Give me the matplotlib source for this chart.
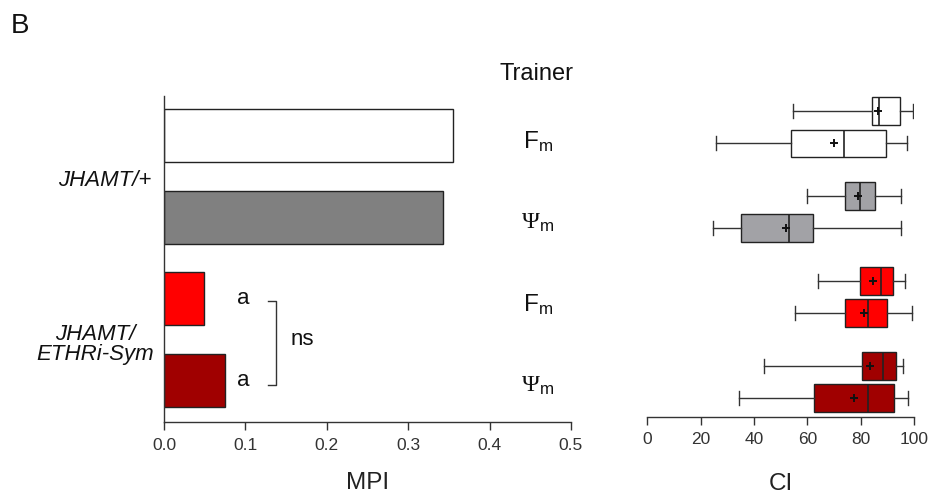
import matplotlib.pyplot as plt
import numpy as np

plt.rcParams['font.family'] = ['Liberation Sans', 'DejaVu Sans']
plt.rcParams['mathtext.fontset'] = 'custom'
plt.rcParams['mathtext.rm'] = 'Liberation Serif'
plt.rcParams['mathtext.sf'] = 'Liberation Sans'
plt.rcParams['mathtext.it'] = 'Liberation Serif:italic'

# MPI per trainer, top to bottom
mpi_values = [0.355, 0.343, 0.049, 0.075]
mpi_colors = ['white', '#808080', '#ff0000', '#a00000']
trainer_labels = [r'$\mathsf{F_m}$', r'$\Psi_\mathsf{m}$', r'$\mathsf{F_m}$', r'$\Psi_\mathsf{m}$']
genotypes = ['JHAMT/+', 'JHAMT/\nETHRi-Sym']

# CI box summaries (two boxes per trainer): whisker low, Q1, median, Q3, whisker high, mean
ci_low = [54.7, 25.6, 60.0, 24.5, 63.9, 55.5, 43.8, 34.5]
ci_q1 = [84.1, 53.8, 74.1, 35.1, 79.6, 74.0, 80.5, 62.5]
ci_med = [86.9, 73.6, 79.6, 53.2, 87.7, 82.9, 88.3, 82.9]
ci_q3 = [94.9, 89.4, 85.3, 62.0, 92.0, 89.9, 93.1, 92.5]
ci_high = [99.7, 97.5, 95.1, 95.2, 96.6, 99.2, 95.8, 97.9]
ci_mean = [86.5, 69.9, 78.9, 52.0, 84.5, 81.4, 83.5, 77.4]
ci_colors = ['white', 'white', '#a2a2a6', '#a2a2a6', '#ff0000', '#ff0000', '#a00000', '#a00000']
ci_pos = [0, 1, 2.6, 3.6, 5.2, 6.2, 7.8, 8.8]

fig = plt.figure(figsize=(9.33, 4.99), dpi=100)

# ---- MPI bar chart ----
ax1 = fig.add_axes([0.1758, 0.1537, 0.4362, 0.6539])
ypos = np.arange(len(mpi_values))
ax1.barh(ypos, mpi_values, height=0.65, color=mpi_colors, edgecolor='#222222', linewidth=1.0)
ax1.set_xlim(0, 0.5)
ax1.set_ylim(3.513, -0.485)
ax1.set_xticks([0.0, 0.1, 0.2, 0.3, 0.4, 0.5])
ax1.set_xticklabels(['0.0', '0.1', '0.2', '0.3', '0.4', '0.5'])
ax1.set_yticks([])
for s in ['top', 'right']:
    ax1.spines[s].set_visible(False)
for s in ['left', 'bottom']:
    ax1.spines[s].set_color('#333333')
    ax1.spines[s].set_linewidth(1.0)
ax1.tick_params(axis='x', direction='out', length=6, width=1.0, color='#333333',
                labelsize=12.5, labelcolor='#333333', pad=5)
ax1.set_xlabel('MPI', fontsize=17.5, color='#222222', labelpad=14)

for y, lab in zip(ypos, trainer_labels):
    ax1.text(0.459, y + 0.07, lab, fontsize=17.5, ha='center', va='center', color='#111111')

# significance letters and bracket
ax1.text(0.097, 2.0, 'a', fontsize=16, ha='center', va='center', color='#111111')
ax1.text(0.097, 3.0, 'a', fontsize=16, ha='center', va='center', color='#111111')
ax1.plot([0.128, 0.137, 0.137, 0.128], [2.03, 2.03, 3.05, 3.05], color='#333333', lw=1.0)
ax1.text(0.155, 2.5, 'ns', fontsize=16, ha='left', va='center', color='#111111')

fig.text(0.575, 0.852, 'Trainer', fontsize=17, ha='center', va='center', color='#111111')
fig.text(0.112, 0.638, genotypes[0], fontsize=16, ha='center', va='center', style='italic',
         color='#111111')
fig.text(0.102, 0.310, genotypes[1], fontsize=16, ha='center', va='center', style='italic',
         color='#111111', linespacing=0.95)
fig.text(0.012, 0.948, 'B', fontsize=20, ha='left', va='center', color='#111111')

# ---- CI box plots ----
ax2 = fig.add_axes([0.6938, 0.1649, 0.2859, 0.6427])
stats = []
for i in range(len(ci_pos)):
    stats.append({'whislo': ci_low[i], 'q1': ci_q1[i], 'med': ci_med[i], 'q3': ci_q3[i],
                  'whishi': ci_high[i], 'mean': ci_mean[i], 'fliers': []})
bp = ax2.bxp(stats, positions=ci_pos, widths=0.85, vert=False, patch_artist=True,
             showmeans=True, manage_ticks=False,
             boxprops=dict(linewidth=1.0, edgecolor='#222222'),
             medianprops=dict(color='#222222', linewidth=1.2),
             whiskerprops=dict(color='#333333', linewidth=1.0),
             capprops=dict(color='#333333', linewidth=1.0),
             meanprops=dict(marker='+', markeredgecolor='#111111', markersize=6,
                            markeredgewidth=1.4))
for patch, c in zip(bp['boxes'], ci_colors):
    patch.set_facecolor(c)

ax2.set_xlim(0, 100)
ax2.set_ylim(9.363, -0.45)
ax2.set_xticks([0, 20, 40, 60, 80, 100])
ax2.set_yticks([])
for s in ['top', 'right', 'left']:
    ax2.spines[s].set_visible(False)
ax2.spines['bottom'].set_color('#333333')
ax2.spines['bottom'].set_linewidth(1.0)
ax2.tick_params(axis='x', direction='out', length=6, width=1.0, color='#333333',
                labelsize=12.5, labelcolor='#333333', pad=5)
ax2.set_xlabel('CI', fontsize=17.5, color='#222222', labelpad=19)

plt.savefig('out.png', dpi=100)
